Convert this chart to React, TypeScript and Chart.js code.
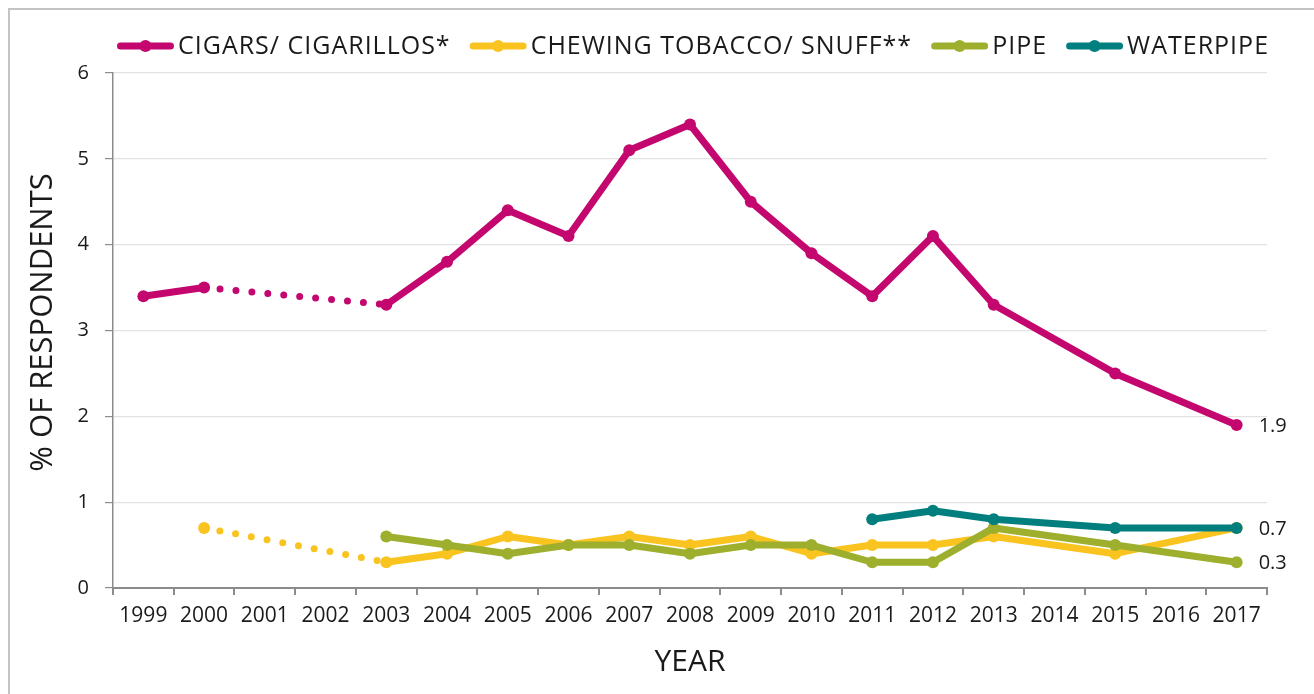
import React, { useEffect, useRef } from "react";
import { Chart, registerables } from "chart.js";

Chart.register(...registerables);

const years = [
  "1999", "2000", "2001", "2002", "2003", "2004", "2005", "2006", "2007", "2008",
  "2009", "2010", "2011", "2012", "2013", "2014", "2015", "2016", "2017",
];
const cigars = [3.4, 3.5, null, null, 3.3, 3.8, 4.4, 4.1, 5.1, 5.4, 4.5, 3.9, 3.4, 4.1, 3.3, null, 2.5, null, 1.9];
const chewing = [null, 0.7, null, null, 0.3, 0.4, 0.6, 0.5, 0.6, 0.5, 0.6, 0.4, 0.5, 0.5, 0.6, null, 0.4, null, 0.7];
const pipe = [null, null, null, null, 0.6, 0.5, 0.4, 0.5, 0.5, 0.4, 0.5, 0.5, 0.3, 0.3, 0.7, null, 0.5, null, 0.3];
const waterpipe = [null, null, null, null, null, null, null, null, null, null, null, null, 0.8, 0.9, 0.8, null, 0.7, null, 0.7];

const seriesNames = ["CIGARS/ CIGARILLOS*", "CHEWING TOBACCO/ SNUFF**", "PIPE", "WATERPIPE"];
const seriesColors = ["#C4066F", "#F9C41F", "#9DAF2D", "#007F7E"];
const yTicks = [0, 1, 2, 3, 4, 5, 6];
const labelledSeries = [0, 2, 3]; // end-of-line value labels
const dottedGap = [1, 4]; // 2000 -> 2003 drawn dotted (no survey 2001-2002)
const yTitle = "% OF RESPONDENTS";
const xTitle = "YEAR";

const FONT = "'Open Sans', sans-serif";
const TEXT = "#1a1a1a";
const AXIS = "#8c8c8c";

const isDotted = (ctx: any) =>
  ctx.p0DataIndex >= dottedGap[0] &&
  ctx.p1DataIndex <= dottedGap[1] &&
  ((ctx.p0 && ctx.p0.skip) || (ctx.p1 && ctx.p1.skip));

const legendPlugin = {
  id: "customLegend",
  afterDraw(chart: any) {
    const { ctx, chartArea } = chart;
    ctx.save();
    ctx.font = `25px ${FONT}`;
    try { (ctx as any).letterSpacing = "1px"; } catch (e) {}
    const lineW = 57;
    const gapText = 4;
    const gapItem = 19;
    const widths = seriesNames.map((n) => ctx.measureText(n).width);
    const total = widths.reduce((a, w) => a + lineW + gapText + w, 0) + gapItem * (seriesNames.length - 1);
    let x = (chartArea.left + chartArea.right) / 2 + 3 - total / 2;
    const y = 46;
    seriesNames.forEach((name, i) => {
      ctx.strokeStyle = seriesColors[i];
      ctx.lineWidth = 7;
      ctx.lineCap = "round";
      ctx.beginPath();
      ctx.moveTo(x + 3.5, y);
      ctx.lineTo(x + lineW - 3.5, y);
      ctx.stroke();
      ctx.fillStyle = seriesColors[i];
      ctx.beginPath();
      ctx.arc(x + lineW / 2, y, 6, 0, Math.PI * 2);
      ctx.fill();
      ctx.fillStyle = TEXT;
      ctx.textBaseline = "middle";
      ctx.textAlign = "left";
      ctx.fillText(name, x + lineW + gapText, y + 1);
      x += lineW + gapText + widths[i] + gapItem;
    });
    ctx.restore();
  },
};

const endLabelPlugin = {
  id: "endLabels",
  afterDatasetsDraw(chart: any) {
    const { ctx } = chart;
    ctx.save();
    ctx.font = `20px ${FONT}`;
    ctx.fillStyle = TEXT;
    ctx.textBaseline = "middle";
    ctx.textAlign = "left";
    labelledSeries.forEach((di) => {
      const meta = chart.getDatasetMeta(di);
      const data = chart.data.datasets[di].data as (number | null)[];
      const last = data.length - 1;
      const el = meta.data[last];
      if (!el || data[last] == null) return;
      ctx.fillText(String(data[last]), el.x + 22, el.y + 1);
    });
    ctx.restore();
  },
};

export default function App() {
  const ref = useRef<HTMLCanvasElement>(null);

  useEffect(() => {
    if (!ref.current) return;
    Chart.defaults.font.family = FONT;
    const mk = (i: number, data: (number | null)[], order: number) => ({
      label: seriesNames[i],
      data,
      borderColor: seriesColors[i],
      backgroundColor: seriesColors[i],
      pointBackgroundColor: seriesColors[i],
      pointBorderWidth: 0,
      pointRadius: 6,
      pointHoverRadius: 6,
      borderWidth: 7,
      borderJoinStyle: "round" as const,
      spanGaps: true,
      tension: 0,
      order,
      segment: {
        borderDash: (ctx: any) => (isDotted(ctx) ? [0, 16] : undefined),
        borderCapStyle: (ctx: any) => (isDotted(ctx) ? "round" : undefined),
        borderWidth: (ctx: any) => (isDotted(ctx) ? 7 : undefined),
      },
    });
    const chart = new Chart(ref.current, {
      type: "line",
      data: {
        labels: years,
        datasets: [
          mk(0, cigars, 0),
          mk(1, chewing, 3),
          mk(2, pipe, 2),
          mk(3, waterpipe, 1),
        ],
      },
      options: {
        responsive: false,
        animation: false,
        events: [],
        layout: { padding: { top: 73, right: 47, left: 0, bottom: 0 } },
        plugins: {
          legend: { display: false },
          tooltip: { enabled: false },
        },
        scales: {
          x: {
            type: "category",
            offset: true,
            afterFit: (s: any) => { s.height = 106; },
            grid: {
              offset: true,
              drawOnChartArea: false,
              drawTicks: true,
              tickLength: 7,
              tickColor: AXIS,
              lineWidth: 2,
              color: AXIS,
            },
            border: { color: AXIS, width: 2 },
            ticks: {
              autoSkip: false,
              maxRotation: 0,
              minRotation: 0,
              font: { size: 21, family: FONT },
              color: TEXT,
              padding: 8,
            },
            title: {
              display: true,
              text: xTitle,
              font: { size: 30, family: FONT },
              color: TEXT,
              padding: { top: 0, bottom: 14 },
            },
          },
          y: {
            min: 0,
            max: 6,
            afterFit: (s: any) => { s.width = 113; },
            afterBuildTicks: (s: any) => { s.ticks = yTicks.map((v) => ({ value: v })); },
            grid: {
              color: "#e2e2e2",
              tickColor: AXIS,
              tickLength: 8,
              lineWidth: 1.2,
            },
            border: { color: AXIS, width: 1.5 },
            ticks: {
              font: { size: 20, family: FONT },
              color: TEXT,
              padding: 16,
            },
            title: {
              display: true,
              text: "  " + yTitle,
              font: { size: 31, family: FONT },
              color: TEXT,
              padding: { top: 25, bottom: 0 },
            },
          },
        },
      },
      plugins: [legendPlugin, endLabelPlugin],
    });
    return () => chart.destroy();
  }, []);

  return (
    <div style={{ position: "fixed", left: 0, top: 0, width: 1314, height: 694, background: "#fff" }}>
      <canvas ref={ref} width={1314} height={694} style={{ display: "block" }} />
      <div
        style={{
          position: "absolute",
          left: 8,
          top: 8,
          right: 0,
          bottom: 0,
          borderTop: "2px solid #c4c4c4",
          borderLeft: "2px solid #c4c4c4",
          pointerEvents: "none",
        }}
      />
    </div>
  );
}
